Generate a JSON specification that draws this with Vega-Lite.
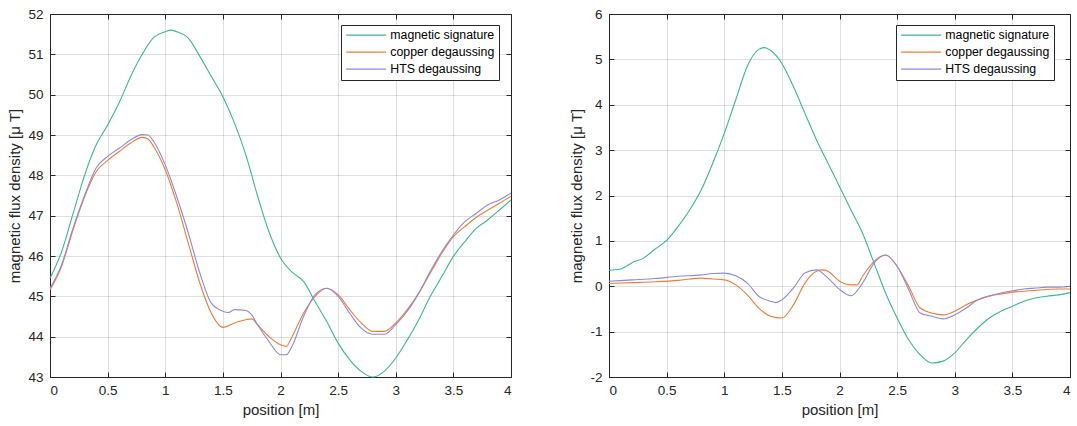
{
  "$schema": "https://vega.github.io/schema/vega-lite/v6.json",
  "padding": {"left": 7, "top": 6, "right": 0, "bottom": 2},
  "background": "white",
  "config": {
    "font": "Liberation Sans",
    "view": {"stroke": "#262626", "strokeWidth": 1},
    "axis": {
      "labelFont": "Liberation Sans", "titleFont": "Liberation Sans",
      "labelFontSize": 13.5, "titleFontSize": 15, "titleFontWeight": "normal",
      "labelColor": "#262626", "titleColor": "#262626",
      "domainColor": "#262626", "tickColor": "#262626",
      "gridColor": "#262626", "gridOpacity": 0.15,
      "tickSize": -5, "labelExpr": "'' + datum.value"
    },
    "axisX": {"labelPadding": 11},
    "axisY": {"labelPadding": 12},
    "legend": {
      "labelFont": "Liberation Sans", "labelFontSize": 12.3, "labelColor": "#000000",
      "symbolType": "M-1,0H7", "symbolSize": 100, "symbolStrokeWidth": 1.1, "symbolFillColor": "transparent",
      "strokeColor": "#262626", "fillColor": "white", "padding": 4, "rowPadding": 4, "labelOffset": 33
    }
  },
  "datasets": {
    "pts": [
      {"panel":"L","series":"magnetic signature","position":0,"B":45.45},
      {"panel":"L","series":"magnetic signature","position":0.1,"B":46.1},
      {"panel":"L","series":"magnetic signature","position":0.2,"B":47.05},
      {"panel":"L","series":"magnetic signature","position":0.3,"B":48.0},
      {"panel":"L","series":"magnetic signature","position":0.4,"B":48.75},
      {"panel":"L","series":"magnetic signature","position":0.5,"B":49.25},
      {"panel":"L","series":"magnetic signature","position":0.6,"B":49.8},
      {"panel":"L","series":"magnetic signature","position":0.7,"B":50.45},
      {"panel":"L","series":"magnetic signature","position":0.8,"B":51.0},
      {"panel":"L","series":"magnetic signature","position":0.9,"B":51.42},
      {"panel":"L","series":"magnetic signature","position":1.0,"B":51.56},
      {"panel":"L","series":"magnetic signature","position":1.05,"B":51.6},
      {"panel":"L","series":"magnetic signature","position":1.1,"B":51.56},
      {"panel":"L","series":"magnetic signature","position":1.2,"B":51.4},
      {"panel":"L","series":"magnetic signature","position":1.3,"B":50.95},
      {"panel":"L","series":"magnetic signature","position":1.4,"B":50.45},
      {"panel":"L","series":"magnetic signature","position":1.5,"B":49.95},
      {"panel":"L","series":"magnetic signature","position":1.6,"B":49.3},
      {"panel":"L","series":"magnetic signature","position":1.7,"B":48.5},
      {"panel":"L","series":"magnetic signature","position":1.8,"B":47.5},
      {"panel":"L","series":"magnetic signature","position":1.9,"B":46.6},
      {"panel":"L","series":"magnetic signature","position":2.0,"B":45.95},
      {"panel":"L","series":"magnetic signature","position":2.1,"B":45.6},
      {"panel":"L","series":"magnetic signature","position":2.2,"B":45.37},
      {"panel":"L","series":"magnetic signature","position":2.3,"B":44.87},
      {"panel":"L","series":"magnetic signature","position":2.4,"B":44.38},
      {"panel":"L","series":"magnetic signature","position":2.5,"B":43.84},
      {"panel":"L","series":"magnetic signature","position":2.6,"B":43.43},
      {"panel":"L","series":"magnetic signature","position":2.7,"B":43.14},
      {"panel":"L","series":"magnetic signature","position":2.8,"B":43.0},
      {"panel":"L","series":"magnetic signature","position":2.9,"B":43.14},
      {"panel":"L","series":"magnetic signature","position":3.0,"B":43.47},
      {"panel":"L","series":"magnetic signature","position":3.1,"B":43.92},
      {"panel":"L","series":"magnetic signature","position":3.2,"B":44.42},
      {"panel":"L","series":"magnetic signature","position":3.3,"B":45.0},
      {"panel":"L","series":"magnetic signature","position":3.4,"B":45.49},
      {"panel":"L","series":"magnetic signature","position":3.5,"B":45.99},
      {"panel":"L","series":"magnetic signature","position":3.6,"B":46.36},
      {"panel":"L","series":"magnetic signature","position":3.7,"B":46.69},
      {"panel":"L","series":"magnetic signature","position":3.8,"B":46.9},
      {"panel":"L","series":"magnetic signature","position":3.9,"B":47.14},
      {"panel":"L","series":"magnetic signature","position":4.0,"B":47.39},

      {"panel":"L","series":"copper degaussing","position":0,"B":45.16},
      {"panel":"L","series":"copper degaussing","position":0.1,"B":45.74},
      {"panel":"L","series":"copper degaussing","position":0.2,"B":46.65},
      {"panel":"L","series":"copper degaussing","position":0.3,"B":47.47},
      {"panel":"L","series":"copper degaussing","position":0.4,"B":48.09},
      {"panel":"L","series":"copper degaussing","position":0.5,"B":48.37},
      {"panel":"L","series":"copper degaussing","position":0.6,"B":48.59},
      {"panel":"L","series":"copper degaussing","position":0.7,"B":48.8},
      {"panel":"L","series":"copper degaussing","position":0.8,"B":48.94},
      {"panel":"L","series":"copper degaussing","position":0.85,"B":48.9},
      {"panel":"L","series":"copper degaussing","position":0.9,"B":48.71},
      {"panel":"L","series":"copper degaussing","position":1.0,"B":48.14},
      {"panel":"L","series":"copper degaussing","position":1.1,"B":47.31},
      {"panel":"L","series":"copper degaussing","position":1.2,"B":46.32},
      {"panel":"L","series":"copper degaussing","position":1.3,"B":45.33},
      {"panel":"L","series":"copper degaussing","position":1.4,"B":44.58},
      {"panel":"L","series":"copper degaussing","position":1.5,"B":44.23},
      {"panel":"L","series":"copper degaussing","position":1.6,"B":44.34},
      {"panel":"L","series":"copper degaussing","position":1.7,"B":44.42},
      {"panel":"L","series":"copper degaussing","position":1.75,"B":44.44},
      {"panel":"L","series":"copper degaussing","position":1.8,"B":44.3},
      {"panel":"L","series":"copper degaussing","position":1.9,"B":44.0},
      {"panel":"L","series":"copper degaussing","position":2.0,"B":43.8},
      {"panel":"L","series":"copper degaussing","position":2.05,"B":43.76},
      {"panel":"L","series":"copper degaussing","position":2.1,"B":44.0},
      {"panel":"L","series":"copper degaussing","position":2.2,"B":44.58},
      {"panel":"L","series":"copper degaussing","position":2.3,"B":45.0},
      {"panel":"L","series":"copper degaussing","position":2.4,"B":45.2},
      {"panel":"L","series":"copper degaussing","position":2.5,"B":45.04},
      {"panel":"L","series":"copper degaussing","position":2.6,"B":44.67},
      {"panel":"L","series":"copper degaussing","position":2.7,"B":44.34},
      {"panel":"L","series":"copper degaussing","position":2.8,"B":44.13},
      {"panel":"L","series":"copper degaussing","position":2.9,"B":44.13},
      {"panel":"L","series":"copper degaussing","position":3.0,"B":44.34},
      {"panel":"L","series":"copper degaussing","position":3.1,"B":44.67},
      {"panel":"L","series":"copper degaussing","position":3.2,"B":45.08},
      {"panel":"L","series":"copper degaussing","position":3.3,"B":45.58},
      {"panel":"L","series":"copper degaussing","position":3.4,"B":46.07},
      {"panel":"L","series":"copper degaussing","position":3.5,"B":46.48},
      {"panel":"L","series":"copper degaussing","position":3.6,"B":46.73},
      {"panel":"L","series":"copper degaussing","position":3.7,"B":46.96},
      {"panel":"L","series":"copper degaussing","position":3.8,"B":47.14},
      {"panel":"L","series":"copper degaussing","position":3.9,"B":47.31},
      {"panel":"L","series":"copper degaussing","position":4.0,"B":47.48},

      {"panel":"L","series":"HTS degaussing","position":0,"B":45.2},
      {"panel":"L","series":"HTS degaussing","position":0.1,"B":45.78},
      {"panel":"L","series":"HTS degaussing","position":0.2,"B":46.69},
      {"panel":"L","series":"HTS degaussing","position":0.3,"B":47.5},
      {"panel":"L","series":"HTS degaussing","position":0.4,"B":48.18},
      {"panel":"L","series":"HTS degaussing","position":0.5,"B":48.47},
      {"panel":"L","series":"HTS degaussing","position":0.6,"B":48.67},
      {"panel":"L","series":"HTS degaussing","position":0.7,"B":48.88},
      {"panel":"L","series":"HTS degaussing","position":0.8,"B":49.01},
      {"panel":"L","series":"HTS degaussing","position":0.85,"B":49.0},
      {"panel":"L","series":"HTS degaussing","position":0.9,"B":48.84},
      {"panel":"L","series":"HTS degaussing","position":1.0,"B":48.26},
      {"panel":"L","series":"HTS degaussing","position":1.1,"B":47.47},
      {"panel":"L","series":"HTS degaussing","position":1.2,"B":46.57},
      {"panel":"L","series":"HTS degaussing","position":1.3,"B":45.58},
      {"panel":"L","series":"HTS degaussing","position":1.4,"B":44.83},
      {"panel":"L","series":"HTS degaussing","position":1.5,"B":44.63},
      {"panel":"L","series":"HTS degaussing","position":1.55,"B":44.6},
      {"panel":"L","series":"HTS degaussing","position":1.6,"B":44.67},
      {"panel":"L","series":"HTS degaussing","position":1.7,"B":44.65},
      {"panel":"L","series":"HTS degaussing","position":1.75,"B":44.54},
      {"panel":"L","series":"HTS degaussing","position":1.8,"B":44.3},
      {"panel":"L","series":"HTS degaussing","position":1.9,"B":43.88},
      {"panel":"L","series":"HTS degaussing","position":2.0,"B":43.55},
      {"panel":"L","series":"HTS degaussing","position":2.05,"B":43.55},
      {"panel":"L","series":"HTS degaussing","position":2.1,"B":43.76},
      {"panel":"L","series":"HTS degaussing","position":2.2,"B":44.5},
      {"panel":"L","series":"HTS degaussing","position":2.3,"B":45.04},
      {"panel":"L","series":"HTS degaussing","position":2.4,"B":45.2},
      {"panel":"L","series":"HTS degaussing","position":2.5,"B":45.0},
      {"panel":"L","series":"HTS degaussing","position":2.6,"B":44.58},
      {"panel":"L","series":"HTS degaussing","position":2.7,"B":44.21},
      {"panel":"L","series":"HTS degaussing","position":2.8,"B":44.06},
      {"panel":"L","series":"HTS degaussing","position":2.9,"B":44.06},
      {"panel":"L","series":"HTS degaussing","position":3.0,"B":44.3},
      {"panel":"L","series":"HTS degaussing","position":3.1,"B":44.63},
      {"panel":"L","series":"HTS degaussing","position":3.2,"B":45.08},
      {"panel":"L","series":"HTS degaussing","position":3.3,"B":45.62},
      {"panel":"L","series":"HTS degaussing","position":3.4,"B":46.11},
      {"panel":"L","series":"HTS degaussing","position":3.5,"B":46.52},
      {"panel":"L","series":"HTS degaussing","position":3.6,"B":46.85},
      {"panel":"L","series":"HTS degaussing","position":3.7,"B":47.06},
      {"panel":"L","series":"HTS degaussing","position":3.8,"B":47.27},
      {"panel":"L","series":"HTS degaussing","position":3.9,"B":47.39},
      {"panel":"L","series":"HTS degaussing","position":4.0,"B":47.56},

      {"panel":"R","series":"magnetic signature","position":0,"B":0.35},
      {"panel":"R","series":"magnetic signature","position":0.1,"B":0.38},
      {"panel":"R","series":"magnetic signature","position":0.15,"B":0.44},
      {"panel":"R","series":"magnetic signature","position":0.2,"B":0.52},
      {"panel":"R","series":"magnetic signature","position":0.3,"B":0.62},
      {"panel":"R","series":"magnetic signature","position":0.4,"B":0.82},
      {"panel":"R","series":"magnetic signature","position":0.5,"B":1.01},
      {"panel":"R","series":"magnetic signature","position":0.6,"B":1.32},
      {"panel":"R","series":"magnetic signature","position":0.7,"B":1.68},
      {"panel":"R","series":"magnetic signature","position":0.8,"B":2.12},
      {"panel":"R","series":"magnetic signature","position":0.9,"B":2.71},
      {"panel":"R","series":"magnetic signature","position":1.0,"B":3.37},
      {"panel":"R","series":"magnetic signature","position":1.1,"B":4.11},
      {"panel":"R","series":"magnetic signature","position":1.2,"B":4.85},
      {"panel":"R","series":"magnetic signature","position":1.3,"B":5.22},
      {"panel":"R","series":"magnetic signature","position":1.35,"B":5.26},
      {"panel":"R","series":"magnetic signature","position":1.4,"B":5.2},
      {"panel":"R","series":"magnetic signature","position":1.5,"B":4.91},
      {"panel":"R","series":"magnetic signature","position":1.6,"B":4.4},
      {"panel":"R","series":"magnetic signature","position":1.7,"B":3.81},
      {"panel":"R","series":"magnetic signature","position":1.8,"B":3.23},
      {"panel":"R","series":"magnetic signature","position":1.9,"B":2.71},
      {"panel":"R","series":"magnetic signature","position":2.0,"B":2.2},
      {"panel":"R","series":"magnetic signature","position":2.1,"B":1.68},
      {"panel":"R","series":"magnetic signature","position":2.2,"B":1.17},
      {"panel":"R","series":"magnetic signature","position":2.3,"B":0.51},
      {"panel":"R","series":"magnetic signature","position":2.4,"B":-0.15},
      {"panel":"R","series":"magnetic signature","position":2.5,"B":-0.7},
      {"panel":"R","series":"magnetic signature","position":2.6,"B":-1.18},
      {"panel":"R","series":"magnetic signature","position":2.7,"B":-1.51},
      {"panel":"R","series":"magnetic signature","position":2.8,"B":-1.69},
      {"panel":"R","series":"magnetic signature","position":2.9,"B":-1.65},
      {"panel":"R","series":"magnetic signature","position":3.0,"B":-1.47},
      {"panel":"R","series":"magnetic signature","position":3.1,"B":-1.18},
      {"panel":"R","series":"magnetic signature","position":3.2,"B":-0.92},
      {"panel":"R","series":"magnetic signature","position":3.3,"B":-0.7},
      {"panel":"R","series":"magnetic signature","position":3.4,"B":-0.55},
      {"panel":"R","series":"magnetic signature","position":3.5,"B":-0.44},
      {"panel":"R","series":"magnetic signature","position":3.6,"B":-0.33},
      {"panel":"R","series":"magnetic signature","position":3.7,"B":-0.26},
      {"panel":"R","series":"magnetic signature","position":3.8,"B":-0.22},
      {"panel":"R","series":"magnetic signature","position":3.9,"B":-0.19},
      {"panel":"R","series":"magnetic signature","position":4.0,"B":-0.14},

      {"panel":"R","series":"copper degaussing","position":0,"B":0.06},
      {"panel":"R","series":"copper degaussing","position":0.2,"B":0.08},
      {"panel":"R","series":"copper degaussing","position":0.4,"B":0.1},
      {"panel":"R","series":"copper degaussing","position":0.6,"B":0.13},
      {"panel":"R","series":"copper degaussing","position":0.8,"B":0.18},
      {"panel":"R","series":"copper degaussing","position":0.9,"B":0.16},
      {"panel":"R","series":"copper degaussing","position":1.0,"B":0.14},
      {"panel":"R","series":"copper degaussing","position":1.1,"B":0.03},
      {"panel":"R","series":"copper degaussing","position":1.2,"B":-0.19},
      {"panel":"R","series":"copper degaussing","position":1.3,"B":-0.48},
      {"panel":"R","series":"copper degaussing","position":1.4,"B":-0.66},
      {"panel":"R","series":"copper degaussing","position":1.5,"B":-0.7},
      {"panel":"R","series":"copper degaussing","position":1.6,"B":-0.41},
      {"panel":"R","series":"copper degaussing","position":1.7,"B":0.07},
      {"panel":"R","series":"copper degaussing","position":1.8,"B":0.33},
      {"panel":"R","series":"copper degaussing","position":1.85,"B":0.36},
      {"panel":"R","series":"copper degaussing","position":1.9,"B":0.33},
      {"panel":"R","series":"copper degaussing","position":2.0,"B":0.11},
      {"panel":"R","series":"copper degaussing","position":2.1,"B":0.03},
      {"panel":"R","series":"copper degaussing","position":2.15,"B":0.03},
      {"panel":"R","series":"copper degaussing","position":2.2,"B":0.22},
      {"panel":"R","series":"copper degaussing","position":2.3,"B":0.55},
      {"panel":"R","series":"copper degaussing","position":2.4,"B":0.69},
      {"panel":"R","series":"copper degaussing","position":2.5,"B":0.44},
      {"panel":"R","series":"copper degaussing","position":2.6,"B":0.0},
      {"panel":"R","series":"copper degaussing","position":2.7,"B":-0.48},
      {"panel":"R","series":"copper degaussing","position":2.8,"B":-0.59},
      {"panel":"R","series":"copper degaussing","position":2.9,"B":-0.63},
      {"panel":"R","series":"copper degaussing","position":3.0,"B":-0.55},
      {"panel":"R","series":"copper degaussing","position":3.1,"B":-0.41},
      {"panel":"R","series":"copper degaussing","position":3.2,"B":-0.3},
      {"panel":"R","series":"copper degaussing","position":3.3,"B":-0.22},
      {"panel":"R","series":"copper degaussing","position":3.4,"B":-0.17},
      {"panel":"R","series":"copper degaussing","position":3.5,"B":-0.13},
      {"panel":"R","series":"copper degaussing","position":3.6,"B":-0.11},
      {"panel":"R","series":"copper degaussing","position":3.7,"B":-0.09},
      {"panel":"R","series":"copper degaussing","position":3.8,"B":-0.07},
      {"panel":"R","series":"copper degaussing","position":3.9,"B":-0.06},
      {"panel":"R","series":"copper degaussing","position":4.0,"B":-0.06},

      {"panel":"R","series":"HTS degaussing","position":0,"B":0.11},
      {"panel":"R","series":"HTS degaussing","position":0.2,"B":0.14},
      {"panel":"R","series":"HTS degaussing","position":0.4,"B":0.17},
      {"panel":"R","series":"HTS degaussing","position":0.6,"B":0.22},
      {"panel":"R","series":"HTS degaussing","position":0.8,"B":0.25},
      {"panel":"R","series":"HTS degaussing","position":0.9,"B":0.28},
      {"panel":"R","series":"HTS degaussing","position":1.0,"B":0.29},
      {"panel":"R","series":"HTS degaussing","position":1.1,"B":0.23},
      {"panel":"R","series":"HTS degaussing","position":1.2,"B":0.07},
      {"panel":"R","series":"HTS degaussing","position":1.3,"B":-0.22},
      {"panel":"R","series":"HTS degaussing","position":1.4,"B":-0.33},
      {"panel":"R","series":"HTS degaussing","position":1.45,"B":-0.36},
      {"panel":"R","series":"HTS degaussing","position":1.5,"B":-0.3},
      {"panel":"R","series":"HTS degaussing","position":1.6,"B":-0.04},
      {"panel":"R","series":"HTS degaussing","position":1.7,"B":0.29},
      {"panel":"R","series":"HTS degaussing","position":1.8,"B":0.36},
      {"panel":"R","series":"HTS degaussing","position":1.9,"B":0.18},
      {"panel":"R","series":"HTS degaussing","position":2.0,"B":-0.07},
      {"panel":"R","series":"HTS degaussing","position":2.1,"B":-0.21},
      {"panel":"R","series":"HTS degaussing","position":2.2,"B":0.07},
      {"panel":"R","series":"HTS degaussing","position":2.3,"B":0.51},
      {"panel":"R","series":"HTS degaussing","position":2.4,"B":0.69},
      {"panel":"R","series":"HTS degaussing","position":2.5,"B":0.44},
      {"panel":"R","series":"HTS degaussing","position":2.6,"B":-0.07},
      {"panel":"R","series":"HTS degaussing","position":2.7,"B":-0.59},
      {"panel":"R","series":"HTS degaussing","position":2.8,"B":-0.66},
      {"panel":"R","series":"HTS degaussing","position":2.9,"B":-0.72},
      {"panel":"R","series":"HTS degaussing","position":3.0,"B":-0.63},
      {"panel":"R","series":"HTS degaussing","position":3.1,"B":-0.48},
      {"panel":"R","series":"HTS degaussing","position":3.2,"B":-0.3},
      {"panel":"R","series":"HTS degaussing","position":3.3,"B":-0.21},
      {"panel":"R","series":"HTS degaussing","position":3.4,"B":-0.15},
      {"panel":"R","series":"HTS degaussing","position":3.5,"B":-0.1},
      {"panel":"R","series":"HTS degaussing","position":3.6,"B":-0.06},
      {"panel":"R","series":"HTS degaussing","position":3.7,"B":-0.04},
      {"panel":"R","series":"HTS degaussing","position":3.8,"B":-0.02},
      {"panel":"R","series":"HTS degaussing","position":3.9,"B":-0.02},
      {"panel":"R","series":"HTS degaussing","position":4.0,"B":0.0}
    ]
  },
  "data": {"name": "pts"},
  "bounds": "flush",
  "spacing": 98,
  "resolve": {"scale": {"y": "independent", "color": "independent"}, "legend": {"color": "independent"}},
  "hconcat": [
    {
      "width": 461, "height": 363,
      "transform": [{"filter": "datum.panel === 'L'"}],
      "layer": [
        {
          "mark": {"type": "line", "strokeWidth": 1.1, "interpolate": "monotone"},
          "encoding": {
            "x": {"field": "position", "type": "quantitative", "scale": {"domain": [0, 4], "nice": false},
                  "axis": {"title": "position [m]", "values": [0,0.5,1,1.5,2,2.5,3,3.5,4], "titlePadding": 6}},
            "y": {"field": "B", "type": "quantitative", "scale": {"domain": [43, 52], "nice": false, "zero": false},
                  "axis": {"title": "magnetic flux density [μ T]", "values": [43,44,45,46,47,48,49,50,51,52], "titlePadding": 5}},
            "color": {"field": "series", "type": "nominal",
                      "scale": {"domain": ["magnetic signature", "copper degaussing", "HTS degaussing"], "range": ["#3fb68e", "#ee7d3a", "#8e8ad6"]},
                      "legend": {"title": null, "orient": "none", "legendX": 291, "legendY": 11}},
            "detail": {"field": "series"}
          }
        },
        {
          "mark": {"type": "line", "strokeOpacity": 0},
          "encoding": {
            "x": {"field": "position", "type": "quantitative", "axis": {"orient": "top", "labels": false, "domain": false, "grid": false, "title": null, "values": [0,0.5,1,1.5,2,2.5,3,3.5,4]}},
            "y": {"field": "B", "type": "quantitative", "axis": {"orient": "right", "labels": false, "domain": false, "grid": false, "title": null, "values": [43,44,45,46,47,48,49,50,51,52]}},
            "detail": {"field": "series"}
          }
        }
      ],
      "resolve": {"axis": {"x": "independent", "y": "independent"}}
    },
    {
      "width": 461, "height": 363,
      "transform": [{"filter": "datum.panel === 'R'"}],
      "layer": [
        {
          "mark": {"type": "line", "strokeWidth": 1.1, "interpolate": "monotone"},
          "encoding": {
            "x": {"field": "position", "type": "quantitative", "scale": {"domain": [0, 4], "nice": false},
                  "axis": {"title": "position [m]", "values": [0,0.5,1,1.5,2,2.5,3,3.5,4], "titlePadding": 6}},
            "y": {"field": "B", "type": "quantitative", "scale": {"domain": [-2, 6], "nice": false, "zero": false},
                  "axis": {"title": "magnetic flux density [μ T]", "values": [-2,-1,0,1,2,3,4,5,6], "titlePadding": 5}},
            "color": {"field": "series", "type": "nominal",
                      "scale": {"domain": ["magnetic signature", "copper degaussing", "HTS degaussing"], "range": ["#3fb68e", "#ee7d3a", "#8e8ad6"]},
                      "legend": {"title": null, "orient": "none", "legendX": 287, "legendY": 11}},
            "detail": {"field": "series"}
          }
        },
        {
          "mark": {"type": "line", "strokeOpacity": 0},
          "encoding": {
            "x": {"field": "position", "type": "quantitative", "axis": {"orient": "top", "labels": false, "domain": false, "grid": false, "title": null, "values": [0,0.5,1,1.5,2,2.5,3,3.5,4]}},
            "y": {"field": "B", "type": "quantitative", "axis": {"orient": "right", "labels": false, "domain": false, "grid": false, "title": null, "values": [-2,-1,0,1,2,3,4,5,6]}},
            "detail": {"field": "series"}
          }
        }
      ],
      "resolve": {"axis": {"x": "independent", "y": "independent"}}
    }
  ]
}
